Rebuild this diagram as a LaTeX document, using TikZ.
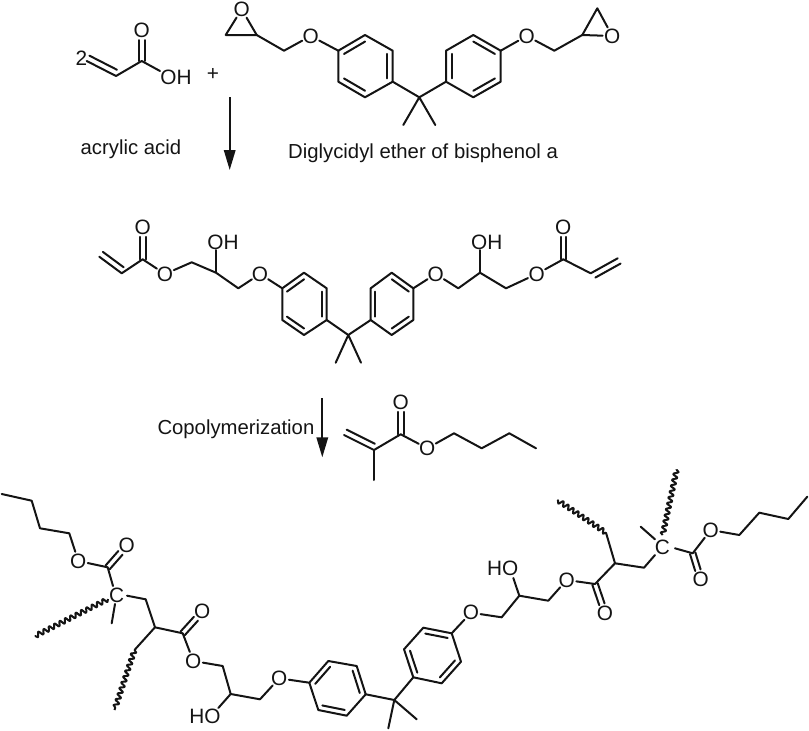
\documentclass[tikz,border=0pt]{standalone}
\usepackage{fontspec}
\setmainfont{Liberation Sans}
\usetikzlibrary{calc,arrows.meta,decorations.pathmorphing}
\newcommand{\pts}[1]{\foreach \nm/\xx/\yy in {#1}{\coordinate (\nm) at (\xx,\yy);}}
\newcommand{\atm}[4]{\node[atom] (#1) at (#2,#3) {#4};}
\newcommand{\lab}[4]{\node[lbl] (#1) at (#2,#3) {#4};}
% C=O style double bond (symmetric), atom at the second name
\newcommand{\cdo}[2]{%
  \draw[bond,shorten >=9.5pt] ($(#1)!2.8pt!90:(#2)$) -- ($(#2)!2.8pt!-90:(#1)$);
  \draw[bond,shorten >=9.5pt] ($(#1)!2.8pt!-90:(#2)$) -- ($(#2)!2.8pt!90:(#1)$);}
% second line of a C=C, to one side
\newcommand{\sided}[3]{%
  \draw[bond,shorten >=2pt] ($(#1)!6pt!#3:(#2)$) -- ($(#2)!6pt!-#3:(#1)$);}
% inner line of a ring double bond
\newcommand{\inn}[3]{\draw[bond] ($(#1)!.21!(#3)$) -- ($(#2)!.21!(#3)$);}
\newcommand{\ringd}[8]{% six vertex names, centre, mode
  \draw[bond] (#1) -- (#2) -- (#3) -- (#4) -- (#5) -- (#6) -- cycle;
  \ifnum#8=0
    \inn{#1}{#2}{#7}\inn{#3}{#4}{#7}\inn{#5}{#6}{#7}
  \else
    \inn{#2}{#3}{#7}\inn{#4}{#5}{#7}\inn{#6}{#1}{#7}
  \fi}
\tikzset{
  bond/.style={line width=2pt,line join=round,line cap=round,black!92},
  wavy/.style={bond,line cap=butt,decorate,decoration={snake,segment length=6pt,amplitude=2.4pt}},
  atom/.style={circle,inner sep=-1pt,font=\fontsize{20.8}{24}\selectfont,text=black!92},
  lbl/.style={inner sep=0pt,font=\fontsize{20.8}{24}\selectfont,text=black!92},
  captxt/.style={inner sep=0pt,anchor=base west,font=\fontsize{20.3}{24}\selectfont,text=black!92},
  rxn/.style={line width=1.8pt,black!92,-{Triangle[length=20pt,width=11.5pt]}}
}
\begin{document}
\begin{tikzpicture}[x=1pt,y=-1pt]
\useasboundingbox (0,0) rectangle (809,731);
% ---------- acrylic acid
\lab{two}{81.5}{58}{2}
\pts{aa1/86.7/61,aa2/116/76,aa3/141.7/61}
\atm{aao}{141.7}{30.7}{O}
\lab{aaoh}{176}{77.5}{OH}
\coordinate (aaohb) at (160,71);
\draw[bond] (aa1) -- (aa2) -- (aa3) -- (aaohb);
\sided{aa1}{aa2}{90}
\cdo{aa3}{aao}
\lab{plus}{213}{74}{+}
\node[captxt] (aacap) at (80.5,154) {acrylic acid};
\pts{ar1s/229.7/97,ar1e/229.7/170}
\draw[rxn] (ar1s) -- (ar1e);
% ---------- DGEBA
\atm{e1o}{241.7}{9.3}{O}
\pts{e1a/225.7/35,e1b/256.7/35,e1c/284/50.7}
\atm{e1p}{310.7}{36}{O}
\draw[bond] (e1o) -- (e1a) -- (e1b) -- (e1o);
\draw[bond] (e1b) -- (e1c) -- (e1p);
\pts{ra1/338.3/50.7,ra2/365/35,ra3/392.7/50.7,ra4/392.7/81.7,ra5/365/97.3,ra6/338.3/81.7,rac/365.4/66.2}
\ringd{ra1}{ra2}{ra3}{ra4}{ra5}{ra6}{rac}{0}
\draw[bond] (e1p) -- (ra1);
\pts{rb1/500.7/50.7,rb2/473.3/35,rb3/446/50.7,rb4/446/81.7,rb5/473.3/97.3,rb6/500.7/81.7,rbc/473.3/66.2}
\ringd{rb1}{rb2}{rb3}{rb4}{rb5}{rb6}{rbc}{0}
\pts{cq/419.3/97.3,me1/403.3/125,me2/435.3/125}
\draw[bond] (ra4) -- (cq) -- (rb4);
\draw[bond] (me1) -- (cq) -- (me2);
\atm{e2p}{526.7}{36}{O}
\pts{e2c/554.3/50.7,e2b/582.3/35,e2a/597.3/8.3}
\atm{e2o}{612.3}{36}{O}
\draw[bond] (rb1) -- (e2p) -- (e2c) -- (e2b);
\draw[bond] (e2b) -- (e2a) -- (e2o) -- (e2b);
\node[captxt] (dgcap) at (288,158) {Diglycidyl ether of bisphenol a};
% ---------- diacrylate
\pts{m1/99.3/256.7,m2/121.7/273.3,m3/142.7/259.3,m5/191.7/262.3,m6/216/272.7,m7/238.3/288.3,moh/216/250}
\atm{mo1}{142.7}{227.3}{O}
\atm{mo2}{165}{274}{O}
\atm{mo3}{260}{274}{O}
\lab{mohl}{223}{242}{OH}
\draw[bond] (m1) -- (m2) -- (m3) -- (mo2) -- (m5) -- (m6) -- (m7) -- (mo3);
\sided{m1}{m2}{90}
\draw[bond] (m6) -- (moh);
\cdo{m3}{mo1}
\pts{rc1/282.3/288.3,rc2/304/272.7,rc3/326.7/288.3,rc4/326.7/320,rc5/304/335,rc6/282.3/320,rcc/304.4/304}
\ringd{rc1}{rc2}{rc3}{rc4}{rc5}{rc6}{rcc}{0}
\draw[bond] (mo3) -- (rc1);
\pts{rd1/413.3/288.3,rd2/391.7/272.7,rd3/370.7/288.3,rd4/370.7/320,rd5/391.7/335,rd6/413.3/320,rdc/392/304}
\ringd{rd1}{rd2}{rd3}{rd4}{rd5}{rd6}{rdc}{0}
\pts{mq/348.3/335,mq1/335.7/362.7,mq2/361/362.7}
\draw[bond] (rc4) -- (mq) -- (rd4);
\draw[bond] (mq1) -- (mq) -- (mq2);
\atm{mo4}{435.7}{274}{O}
\atm{mo5}{536.7}{274}{O}
\atm{mo6}{563.3}{227.3}{O}
\lab{mohr}{486.7}{242}{OH}
\pts{n1/458.3/288.3,n2/480/272.7,n3/506/288.3,n4/563.3/259.3,n5/590.7/273.3,n6/617.7/258.3,nohb/480/250}
\draw[bond] (rd1) -- (mo4) -- (n1) -- (n2) -- (n3) -- (mo5) -- (n4) -- (n5) -- (n6);
\sided{n6}{n5}{90}
\draw[bond] (n2) -- (nohb);
\cdo{n4}{mo6}
\pts{ar2s/322.3/398.3,ar2e/322.3/457.3}
\draw[rxn] (ar2s) -- (ar2e);
\node[captxt] (cpcap) at (157.3,434.3) {Copolymerization};
% ---------- butyl methacrylate
\pts{b1/344/435,b2/374/450,b3/374/480,b4/400.7/434.3,b5/454/433.3,b6/481.7/448.3,b7/509.3/433.3,b8/536/448.3}
\atm{bo1}{400.7}{402.3}{O}
\atm{bo2}{427.3}{448.3}{O}
\draw[bond] (b1) -- (b2) -- (b4) -- (bo2) -- (b5) -- (b6) -- (b7) -- (b8);
\draw[bond] (b2) -- (b3);
\sided{b1}{b2}{90}
\cdo{b4}{bo1}
% ---------- polymer, left end
\pts{p1/1.7/494,p2/31.7/500.7,p3/40/528.3,p4/69.3/533.3,p5/107.7/567.3,p6/145.7/599.3,p7/155/627.3,p8/182.7/633.3,p9/222.7/666,p10/230.7/694,p11/260/699.3}
\atm{po1}{78.3}{561}{O}
\atm{po2}{126.7}{545.7}{O}
\lab{pc}{116.7}{595}{C}
\atm{po3}{202.3}{611.7}{O}
\atm{po4}{193.3}{661}{O}
\atm{po5}{279.3}{678.3}{O}
\lab{phol}{205}{716.7}{HO}
\pts{phob/218.3/708,pc1/113/586,pc2/127/595.7,pc3/115/604,pm/111.7/623.3,pc4/108/599,pw1/35/636,pw2/134.5/650,pw3/114.5/710}
\draw[bond] (p1) -- (p2) -- (p3) -- (p4) -- (po1) -- (p5) -- (pc1);
\cdo{p5}{po2}
\draw[bond] (pc2) -- (p6) -- (p7) -- (p8) -- (po4) -- (p9) -- (p10) -- (p11) -- (po5);
\cdo{p8}{po3}
\draw[bond] (p10) -- (phob);
\draw[bond] (pc3) -- (pm);
\draw[wavy] (pc4) -- (pw1);
\draw[bond] (p7) -- (pw2);
\draw[wavy] (pw2) -- (pw3);
% ---------- polymer, rings
\pts{re1/309.3/682.7,re2/328.3/661,re3/356.7/666,re4/365.7/694.3,re5/346.7/715.7,re6/318.3/710,rec/337.5/688.3}
\draw[bond] (po5) -- (re1);
\ringd{re1}{re2}{re3}{re4}{re5}{re6}{rec}{0}
\pts{rf1/451.7/633.3,rf2/423.3/627.7,rf3/404/649.3,rf4/413.3/677.3,rf5/441.7/683.3,rf6/461/661.7,rfc/432.5/655.5}
\ringd{rf1}{rf2}{rf3}{rf4}{rf5}{rf6}{rfc}{0}
\pts{pq/394.3/700,pq1/388.3/728.3,pq2/416.7/719.3}
\draw[bond] (re4) -- (pq) -- (rf4);
\draw[bond] (pq1) -- (pq) -- (pq2);
% ---------- polymer, right end
\atm{qo1}{471}{612.7}{O}
\atm{qo2}{566.7}{580}{O}
\atm{qo3}{605}{613.3}{O}
\atm{qo4}{710.7}{530}{O}
\atm{qo5}{700.7}{579.3}{O}
\lab{qhol}{502.7}{568.3}{HO}
\lab{qc}{662.3}{547.3}{C}
\pts{q1/501.7/617.3,q2/519.3/595.7,qhob/513.3/578,q3/548.3/600.7,q4/595/584,q5/615/563.3,q6/606/532.7,qw1/557.3/500,q7/644/567.7,qc1/655/555,qm0/655/539.3,qm/640.7/526.7,qc2/662.7/535,qw2/676.7/469.3,qc3/675/548.3,q8/692.7/553.3,q9/739.3/535,q10/759.3/512.7,q11/788.3/519,q12/807.3/496.7}
\draw[bond] (rf1) -- (qo1) -- (q1) -- (q2) -- (q3) -- (qo2) -- (q4) -- (q5) -- (q7) -- (qc1);
\draw[bond] (q2) -- (qhob);
\cdo{q4}{qo3}
\draw[bond] (q5) -- (q6);
\draw[wavy] (q6) -- (qw1);
\draw[bond] (qm0) -- (qm);
\draw[wavy] (qc2) -- (qw2);
\draw[bond] (qc3) -- (q8) -- (qo4) -- (q9) -- (q10) -- (q11) -- (q12);
\cdo{q8}{qo5}
\end{tikzpicture}
\end{document}
